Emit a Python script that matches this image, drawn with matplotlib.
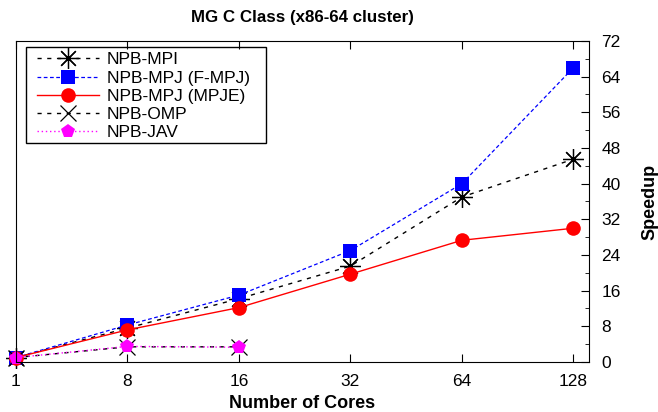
import matplotlib
matplotlib.use("Agg")
import matplotlib.pyplot as plt
from matplotlib.ticker import MultipleLocator
from matplotlib.patches import Rectangle

plt.rcParams['font.family'] = ['Liberation Sans', 'DejaVu Sans']

cores = ["1", "8", "16", "32", "64", "128"]
npb_mpi = [1, 7.6, 14.2, 21.5, 37.0, 45.5]
npb_mpj_fmpj = [1, 8.3, 15.0, 25.0, 40.0, 66.0]
npb_mpj_mpje = [1, 7.2, 12.2, 19.7, 27.3, 30.0]
omp_cores = ["1", "8", "16"]
npb_omp = [1, 3.4, 3.4]
npb_jav = [1, 3.5, 3.3]

fig = plt.figure(figsize=(6.58, 4.12), dpi=100)
ax = fig.add_axes([0.0243, 0.1214, 0.8708, 0.7791])

x_all = list(range(len(cores)))
x_omp = list(range(len(omp_cores)))

kw = dict(clip_on=False)
ax.plot(x_all, npb_mpi, color='black', linestyle=(0, (3, 4)), linewidth=1,
        marker=(8, 2, 0), markersize=15, markeredgewidth=0.9, label='NPB-MPI', **kw)
ax.plot(x_all, npb_mpj_fmpj, color='blue', linestyle=(0, (3, 2)), linewidth=0.9,
        marker='s', markersize=10, markeredgewidth=0, label='NPB-MPJ (F-MPJ)', **kw)
ax.plot(x_all, npb_mpj_mpje, color='red', linestyle='-', linewidth=1,
        marker='o', markersize=10.5, markeredgewidth=0, label='NPB-MPJ (MPJE)', **kw)
ax.plot(x_omp, npb_omp, color='black', linestyle=(0, (3, 4)), linewidth=1,
        marker='x', markersize=12, markeredgewidth=0.9, label='NPB-OMP', **kw)
ax.plot(x_omp, npb_jav, color='magenta', linestyle=(0, (1, 2)), linewidth=1,
        marker='p', markersize=10, markeredgewidth=0, label='NPB-JAV', **kw)

ax.set_xlim(0, 5.14)
ax.set_ylim(0, 72)
ax.set_xticks(x_all)
ax.set_xticklabels(cores)
ax.yaxis.tick_right()
ax.yaxis.set_label_position('right')
ax.yaxis.set_major_locator(MultipleLocator(8))
ax.yaxis.set_minor_locator(MultipleLocator(4))
ax.tick_params(axis='y', which='both', direction='in', left=False, right=True,
               labelsize=12.5, pad=9)
ax.tick_params(axis='y', which='major', length=6)
ax.tick_params(axis='y', which='minor', length=3)
ax.tick_params(axis='x', which='both', direction='in', top=True, bottom=True,
               labelsize=12.5, length=6, pad=9)

ax.set_title('MG C Class (x86-64 cluster)', fontsize=12.2, fontweight='bold', pad=14)
ax.set_xlabel('Number of Cores', fontsize=13, fontweight='bold', labelpad=4)
ax.set_ylabel('Speedup', fontsize=13, fontweight='bold', labelpad=15)

leg = ax.legend(loc='upper left', fontsize=12.5, frameon=False,
                handlelength=3.6, labelspacing=0.18, borderpad=0.2,
                handletextpad=0.45, borderaxespad=0.0,
                bbox_to_anchor=(0.03, 0.976))
ax.add_patch(Rectangle((0.0175, 0.682), 0.419, 0.299, transform=ax.transAxes,
                       fill=False, edgecolor='black', linewidth=1, zorder=5))

fig.savefig('out.png', dpi=100)
